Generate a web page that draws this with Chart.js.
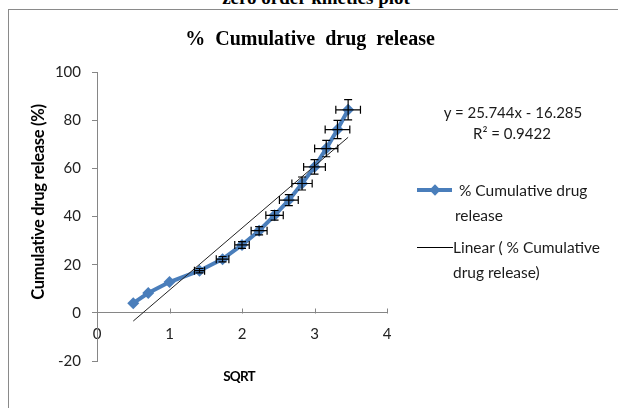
<!DOCTYPE html>
<html>
<head>
<meta charset="utf-8">
<script src="https://cdn.jsdelivr.net/npm/chart.js@4.4.1/dist/chart.umd.min.js"></script>
<style>
  html, body { margin: 0; padding: 0; background: #fff; }
  body { width: 618px; height: 408px; position: relative; overflow: hidden; font-family: Lato, sans-serif; color: #1a1a1a; }
  #frame { position: absolute; left: 8px; top: 9px; width: 700px; height: 500px; border-left: 1px solid #8a8a8a; border-top: 1px solid #8a8a8a; }
  #cv { position: absolute; left: 0; top: 0; }
  .t { position: absolute; white-space: nowrap; }
  .serif { font-family: "Liberation Serif", "DejaVu Serif", serif; font-weight: bold; line-height: 20px; color: #000; }
  .lg { font-size: 15.5px; line-height: 25px; }
</style>
</head>
<body>
<div class="t serif" style="left:16px; width:600px; top:-12px; text-align:center; font-size:19px;">zero order kinetics plot</div>
<div id="frame"></div>
<canvas id="cv" width="618" height="408"></canvas>

<div class="t serif" style="left:10px; width:600px; top:28px; text-align:center; font-size:20px; word-spacing:5px;">% Cumulative drug release</div>

<div class="t" style="left:-112px; top:192px; width:300px; height:20px; line-height:20px; text-align:center; font-weight:bold; font-size:16.5px; letter-spacing:-0.3px; color:#000; transform:rotate(-90deg);">Cumulative drug release (%)</div>
<div class="t" style="left:139px; top:366px; width:200px; line-height:20px; text-align:center; font-weight:bold; font-size:13.5px; letter-spacing:-0.8px; color:#000;">SQRT</div>

<div class="t" style="left:413px; top:102px; width:200px; line-height:20px; text-align:center; font-size:15px;">y = 25.744x - 16.285</div>
<div class="t" style="left:412px; top:123px; width:200px; line-height:20px; text-align:center; font-size:15px;">R² = 0.9422</div>

<div class="t" style="left:417px; top:188px; width:35px; height:4px; background:#4A7EBB;"></div>
<div class="t" style="left:431px; top:186px; width:8px; height:8px; background:#4A7EBB; transform:rotate(45deg);"></div>
<div class="t lg" style="left:455px; top:178px;">&nbsp;% Cumulative drug<br>release</div>

<div class="t" style="left:417px; top:247px; width:36px; height:1px; background:#000;"></div>
<div class="t lg" style="left:453px; top:235px;">Linear ( % Cumulative<br>drug release)</div>

<script>
// square root of time and % cumulative release
const sqrtTime = [0.5, 0.707, 1, 1.414, 1.732, 2, 2.236, 2.449, 2.646, 2.828, 3, 3.162, 3.317, 3.464];
const release  = [4.0, 8.2, 12.8, 17.5, 22.3, 28.2, 34.1, 40.5, 46.8, 53.7, 60.6, 68.2, 76.1, 84.3];
// error bar half widths
const xErr = [0, 0, 0, 0.07, 0.087, 0.1, 0.11, 0.12, 0.13, 0.14, 0.15, 0.16, 0.17, 0.17];
const yErr = [0, 0, 0, 0.9, 1.1, 1.4, 1.7, 2.0, 2.3, 2.7, 3.0, 3.4, 3.8, 4.2];

// trendline from the printed equation
const slope = 25.744;
const intercept = -16.285;
const trendRange = [0.5, 3.464];

const xTicks = [0, 1, 2, 3, 4];
const yTicks = [-20, 0, 20, 40, 60, 80, 100];

const blue = '#4A7EBB';
const axisGray = '#868686';

const errorBars = {
  id: 'errorBars',
  afterDatasetsDraw(chart) {
    const { ctx, scales: { x, y } } = chart;
    ctx.save();
    ctx.strokeStyle = '#000';
    ctx.lineWidth = 1.2;
    const cap = 4;
    sqrtTime.forEach((t, i) => {
      const px = x.getPixelForValue(t);
      const py = y.getPixelForValue(release[i]);
      ctx.beginPath();
      if (xErr[i]) {
        const l = x.getPixelForValue(t - xErr[i]);
        const r = x.getPixelForValue(t + xErr[i]);
        ctx.moveTo(l, py); ctx.lineTo(r, py);
        ctx.moveTo(l, py - cap); ctx.lineTo(l, py + cap);
        ctx.moveTo(r, py - cap); ctx.lineTo(r, py + cap);
      }
      if (yErr[i]) {
        const top = y.getPixelForValue(release[i] + yErr[i]);
        const bot = y.getPixelForValue(release[i] - yErr[i]);
        ctx.moveTo(px, top); ctx.lineTo(px, bot);
        ctx.moveTo(px - cap, top); ctx.lineTo(px + cap, top);
        ctx.moveTo(px - cap, bot); ctx.lineTo(px + cap, bot);
      }
      ctx.stroke();
    });
    // x axis tick marks point up from the zero line
    const y0 = Math.round(y.getPixelForValue(0)) + 0.5;
    ctx.strokeStyle = axisGray;
    ctx.lineWidth = 1;
    ctx.beginPath();
    xTicks.forEach(v => {
      if (v === 0) return;
      const px = Math.round(x.getPixelForValue(v)) + 0.5;
      ctx.moveTo(px, y0); ctx.lineTo(px, y0 - 5);
    });
    ctx.stroke();
    ctx.restore();
  }
};

new Chart(document.getElementById('cv'), {
  type: 'scatter',
  data: {
    datasets: [
      {
        label: '% Cumulative drug release',
        data: sqrtTime.map((t, i) => ({ x: t, y: release[i] })),
        showLine: true,
        borderColor: blue,
        borderWidth: 4,
        backgroundColor: blue,
        pointStyle: 'rectRot',
        pointRadius: 6,
        pointBorderWidth: 0,
        order: 1
      },
      {
        label: 'Linear ( % Cumulative drug release)',
        data: trendRange.map(t => ({ x: t, y: slope * t + intercept })),
        showLine: true,
        borderColor: '#222',
        borderWidth: 1,
        pointRadius: 0,
        order: 0
      }
    ]
  },
  options: {
    responsive: false,
    animation: false,
    layout: { padding: { left: 50, right: 231, top: 72, bottom: 47 } },
    plugins: { legend: { display: false }, tooltip: { enabled: false } },
    scales: {
      x: {
        type: 'linear',
        position: { y: 0 },
        min: 0,
        max: 4,
        afterBuildTicks: s => { s.ticks = xTicks.map(v => ({ value: v })); },
        ticks: { color: '#222', font: { family: 'Lato', size: 15 }, padding: 12 },
        grid: { drawOnChartArea: false, drawTicks: false, color: axisGray },
        border: { color: axisGray, width: 1 }
      },
      y: {
        min: -20,
        max: 100,
        afterBuildTicks: s => { s.ticks = yTicks.map(v => ({ value: v })); },
        afterFit: s => { s.width = 47; },
        ticks: { color: '#222', font: { family: 'Lato', size: 15 }, padding: 11 },
        grid: { drawOnChartArea: false, tickLength: 5, color: axisGray },
        border: { color: axisGray, width: 1 }
      }
    }
  },
  plugins: [errorBars]
});
</script>
</body>
</html>
